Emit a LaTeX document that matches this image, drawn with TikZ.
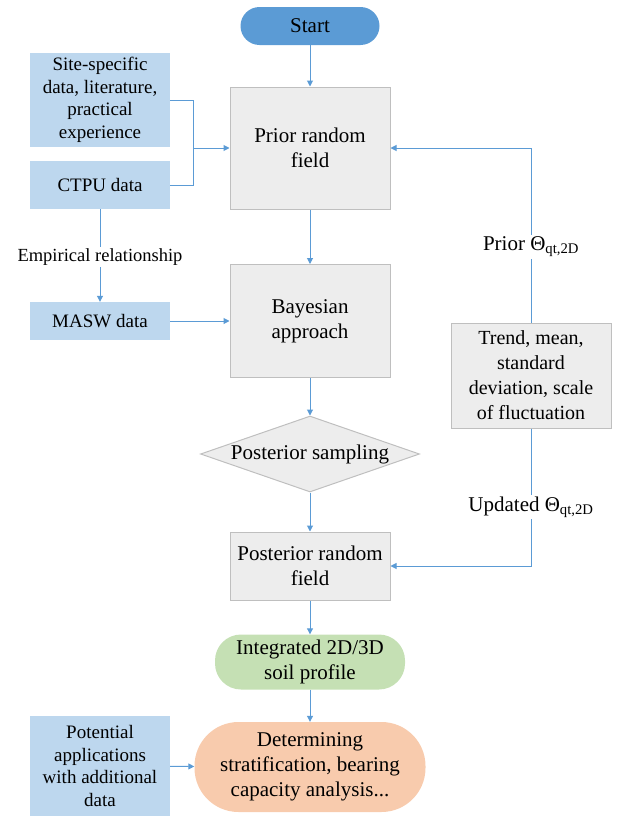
\documentclass[tikz,border=0pt]{standalone}
\usepackage{fontspec}
\setmainfont{Liberation Serif}
\usetikzlibrary{arrows.meta,shapes.geometric}
\definecolor{lineblue}{HTML}{5B9BD5}
\definecolor{startblue}{HTML}{5B9BD5}
\definecolor{lightblue}{HTML}{BDD7EE}
\definecolor{boxgray}{HTML}{EDEDED}
\definecolor{bordergray}{HTML}{BFBFBF}
\definecolor{softgreen}{HTML}{C5E0B4}
\definecolor{softorange}{HTML}{F8CBAD}
\tikzset{
  base/.style={align=center, inner sep=0pt, font=\fontsize{21}{25}\selectfont},
  bluebox/.style={base, fill=lightblue, font=\fontsize{19}{22.5}\selectfont},
  graybox/.style={base, fill=boxgray, draw=bordergray, line width=1pt},
  conn/.style={draw=lineblue, line width=1pt},
  arr/.style={conn, -{Triangle[length=6pt,width=6pt]}},
  lbl/.style={fill=white, inner sep=2pt, font=\fontsize{21}{25}\selectfont},
}
\begin{document}
\begin{tikzpicture}[x=1pt,y=-1pt]
\useasboundingbox (0,0) rectangle (624,819);
% nodes
\node[base, fill=startblue, rounded corners=19pt, minimum width=139pt, minimum height=38pt] (start) at (310,26) {Start};
\node[bluebox, minimum width=140pt, minimum height=94pt] (site) at (100,100) {Site-specific\\data, literature,\\practical\\experience};
\node[bluebox, minimum width=140pt, minimum height=48pt] (ctpu) at (100,185) {CTPU data};
\node[graybox, minimum width=160pt, minimum height=122pt] (prior) at (310,148) {Prior random\\field};
\node[bluebox, minimum width=140pt, minimum height=38pt] (masw) at (100,321) {MASW data};
\node[graybox, minimum width=160pt, minimum height=113pt] (bayes) at (310,321) {Bayesian\\approach};
\node[diamond, fill=boxgray, draw=bordergray, line width=1pt, inner sep=0pt, aspect=2.88, minimum width=219pt, minimum height=76pt, font=\fontsize{21}{25}\selectfont] (samp) at (310,454) {\makebox[0pt]{Posterior sampling}};
\node[graybox, font=\fontsize{20}{25}\selectfont, minimum width=160pt, minimum height=105pt] (trend) at (531,375.5) {Trend, mean,\\standard\\deviation, scale\\of fluctuation};
\node[graybox, minimum width=160pt, minimum height=68pt] (post) at (310,566) {Posterior random\\field};
\node[base, fill=softgreen, rounded corners=26pt, minimum width=190pt, minimum height=55pt] (integ) at (310,662) {Integrated 2D/3D\\soil profile};
\node[base, fill=softorange, rounded corners=44pt, minimum width=231pt, minimum height=90pt] (determ) at (310,767) {Determining\\stratification, bearing\\capacity analysis...};
\node[bluebox, minimum width=140pt, minimum height=100pt] (pot) at (100,766) {Potential\\applications\\with additional\\data};
% connectors
\coordinate (j) at (193,148);
\draw[arr] (start) -- (prior);
\draw[conn] (site.east) -| (j);
\draw[conn] (ctpu.east) -| (j);
\draw[arr] (j) -- (prior.west);
\draw[arr] (ctpu) -- (masw);
\node[lbl, font=\fontsize{18.5}{22}\selectfont] (emp) at (100,257) {Empirical relationship};
\draw[arr] (masw) -- (bayes);
\draw[arr] (prior) -- (bayes);
\draw[arr] (bayes) -- (samp);
\draw[arr] (samp) -- (post);
\draw[arr] (post) -- (integ);
\draw[arr] (integ) -- (determ);
\draw[arr] (pot) -- (determ);
\draw[arr] (trend.north) |- (prior.east);
\draw[arr] (trend.south) |- (post.east);
\node[lbl] (plbl) at (531,247) {Prior Θ\textsubscript{qt,2D}};
\node[lbl] (ulbl) at (531,507) {Updated Θ\textsubscript{qt,2D}};
\end{tikzpicture}
\end{document}
